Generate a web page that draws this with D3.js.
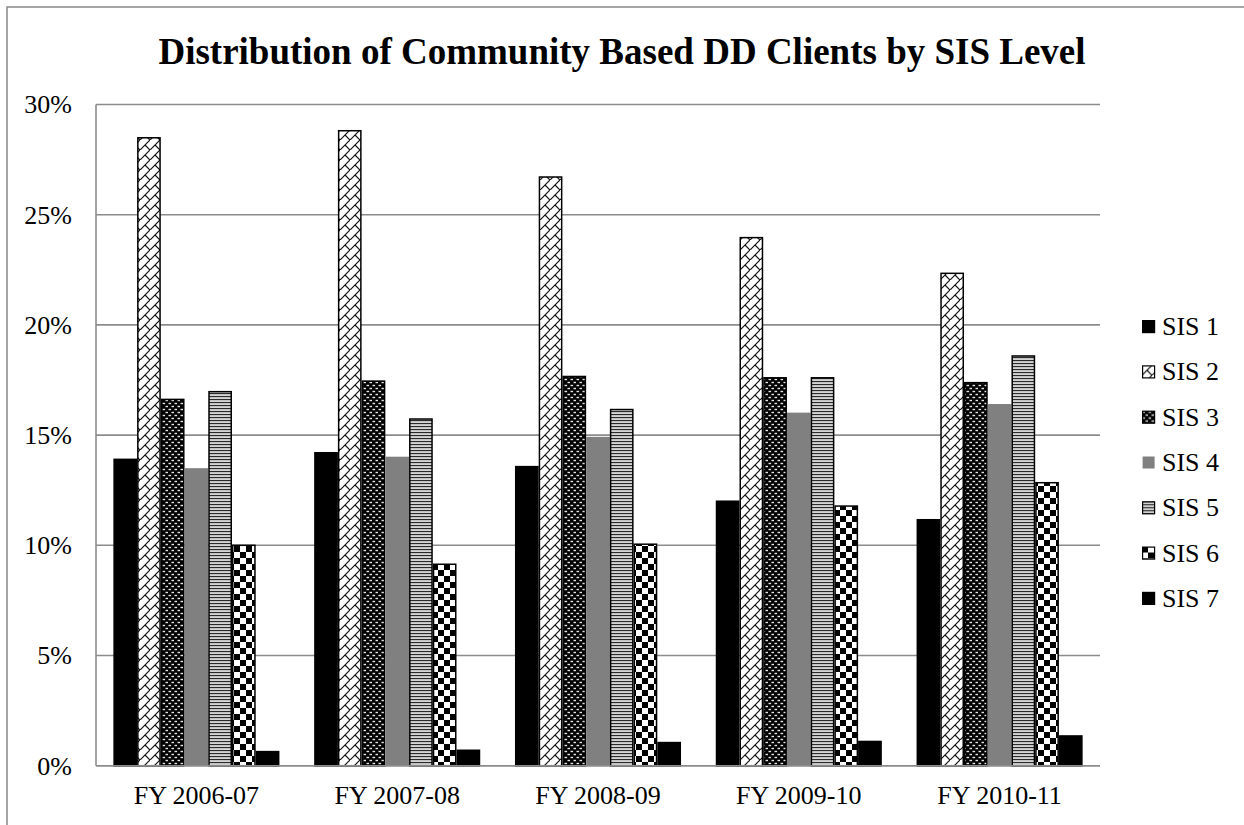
<!DOCTYPE html>
<html>
<head>
<meta charset="utf-8">
<script src="https://cdn.jsdelivr.net/npm/d3@7"></script>
<style>
  html, body { margin: 0; padding: 0; background: #fff; }
  svg { display: block; }
  svg text { font-family: "Liberation Serif", "Times New Roman", serif; fill: #000; }
</style>
</head>
<body>
<svg id="chart" width="1244" height="825"></svg>
<script>
// Fiscal years on the x axis
const categories = ["FY 2006-07", "FY 2007-08", "FY 2008-09", "FY 2009-10", "FY 2010-11"];
const seriesNames = ["SIS 1", "SIS 2", "SIS 3", "SIS 4", "SIS 5", "SIS 6", "SIS 7"];

// Share of clients (%) per SIS level, one array per level, in year order
const sis1 = [13.9, 14.2, 13.57, 12.0, 11.16];
const sis2 = [28.49, 28.81, 26.71, 23.96, 22.34];
const sis3 = [16.62, 17.45, 17.66, 17.6, 17.38];
const sis4 = [13.5, 14.02, 14.92, 16.02, 16.41];
const sis5 = [16.97, 15.73, 16.16, 17.6, 18.59];
const sis6 = [10.0, 9.14, 10.05, 11.78, 12.84];
const sis7 = [0.64, 0.7, 1.05, 1.1, 1.35];
const seriesValues = [sis1, sis2, sis3, sis4, sis5, sis6, sis7];

const yTicks = [0, 5, 10, 15, 20, 25, 30];

const FONT = "Liberation Serif, Times New Roman, serif";
const svg = d3.select("#chart");
const defs = svg.append("defs");

// ---- fill patterns ----
// diagonal brick
const pBrick = defs.append("pattern").attr("id", "p-brick")
  .attr("patternUnits", "userSpaceOnUse").attr("width", 10).attr("height", 10);
pBrick.append("rect").attr("width", 10).attr("height", 10).attr("fill", "#fff");
pBrick.append("path").attr("d", "M-1,11 L11,-1 M5,5 L10,10 M-5,5 L0,10 M5,-5 L10,0")
  .attr("stroke", "#111").attr("stroke-width", 1.2).attr("fill", "none");

// black with light dashes, staggered
const pDots = defs.append("pattern").attr("id", "p-dots")
  .attr("patternUnits", "userSpaceOnUse").attr("width", 6).attr("height", 6);
pDots.append("rect").attr("width", 6).attr("height", 6).attr("fill", "#000");
pDots.append("rect").attr("x", 0.5).attr("y", 0.8).attr("width", 2.6).attr("height", 1.4).attr("fill", "#e6e6e6");
pDots.append("rect").attr("x", 3.5).attr("y", 3.8).attr("width", 2.6).attr("height", 1.4).attr("fill", "#e6e6e6");

// horizontal stripes
const pStripe = defs.append("pattern").attr("id", "p-stripe")
  .attr("patternUnits", "userSpaceOnUse").attr("width", 4).attr("height", 3);
pStripe.append("rect").attr("width", 4).attr("height", 3).attr("fill", "#d4d4d4");
pStripe.append("rect").attr("y", 0).attr("width", 4).attr("height", 1.1).attr("fill", "#2a2a2a");

// checkerboard
const pCheck = defs.append("pattern").attr("id", "p-check")
  .attr("patternUnits", "userSpaceOnUse").attr("width", 12).attr("height", 12);
pCheck.append("rect").attr("width", 12).attr("height", 12).attr("fill", "#fff");
pCheck.append("rect").attr("width", 6).attr("height", 6).attr("fill", "#000");
pCheck.append("rect").attr("x", 6).attr("y", 6).attr("width", 6).attr("height", 6).attr("fill", "#000");

const fills = ["#000", "url(#p-brick)", "url(#p-dots)", "#808080", "url(#p-stripe)", "url(#p-check)", "#000"];
const strokes = ["#000", "#000", "#000", "none", "#000", "#000", "#000"];

// ---- outer frame ----
svg.append("rect").attr("x", 7).attr("y", 7).attr("width", 1260).attr("height", 840)
  .attr("fill", "#fff").attr("stroke", "#888").attr("stroke-width", 1.5);

// ---- title ----
svg.append("text").attr("x", 622).attr("y", 64).attr("text-anchor", "middle")
  .attr("font-family", FONT).attr("font-size", 37).attr("font-weight", "bold")
  .text("Distribution of Community Based DD Clients by SIS Level");

// ---- scales ----
const plot = { left: 96, right: 1100, top: 104.5, bottom: 765.7 };
const x = d3.scaleBand().domain(categories).range([plot.left, plot.right])
  .paddingInner(0.173).paddingOuter(0.0865);
const xs = d3.scaleBand().domain(d3.range(seriesNames.length)).range([0, x.bandwidth()]);
const y = d3.scaleLinear().domain([0, 30]).range([plot.bottom, plot.top]);

// gridlines
svg.append("g").selectAll("line").data(yTicks).join("line")
  .attr("x1", plot.left).attr("x2", plot.right)
  .attr("y1", d => y(d)).attr("y2", d => y(d))
  .attr("stroke", "#8c8c8c").attr("stroke-width", 1.6);

// y axis line
svg.append("line").attr("x1", plot.left).attr("x2", plot.left)
  .attr("y1", plot.top).attr("y2", plot.bottom)
  .attr("stroke", "#8c8c8c").attr("stroke-width", 1.6);

// y tick labels
const yAxis = d3.axisLeft(y).tickValues(yTicks).tickFormat(d => d + "%").tickSize(0).tickPadding(24);
const gy = svg.append("g").attr("transform", `translate(${plot.left},0)`).call(yAxis)
  .attr("font-family", FONT).attr("font-size", 26);
gy.select(".domain").remove();
gy.selectAll("text").attr("font-family", FONT).attr("font-size", 26);

// x tick labels
const xAxis = d3.axisBottom(x).tickSize(0).tickPadding(20);
const gx = svg.append("g").attr("transform", `translate(0,${plot.bottom})`).call(xAxis)
  .attr("font-family", FONT).attr("font-size", 26);
gx.select(".domain").remove();
gx.selectAll("text").attr("font-family", FONT).attr("font-size", 26);

// ---- bars ----
const bars = [];
seriesValues.forEach((vals, si) => {
  vals.forEach((v, ci) => bars.push({ si, ci, v }));
});
svg.append("g").selectAll("rect").data(bars).join("rect")
  .attr("x", d => x(categories[d.ci]) + xs(d.si) + (strokes[d.si] === "none" ? 0 : 0.75))
  .attr("width", d => xs.bandwidth() - (strokes[d.si] === "none" ? 0 : 1.5))
  .attr("y", d => y(d.v))
  .attr("height", d => y(0) - y(d.v))
  .attr("fill", d => fills[d.si])
  .attr("stroke", d => strokes[d.si])
  .attr("stroke-width", 1.5);

// baseline drawn over bar bottoms
svg.append("line").attr("x1", plot.left).attr("x2", plot.right)
  .attr("y1", y(0)).attr("y2", y(0))
  .attr("stroke", "#8c8c8c").attr("stroke-width", 1.6);

// ---- legend ----
const legend = svg.append("g").attr("transform", "translate(1142,320)");
const item = legend.selectAll("g").data(seriesNames).join("g")
  .attr("transform", (d, i) => `translate(0,${i * 45.3})`);
item.append("rect").attr("x", 0.6).attr("y", 0.6).attr("width", 12).attr("height", 12)
  .attr("fill", (d, i) => fills[i])
  .attr("stroke", (d, i) => strokes[i]).attr("stroke-width", 1.2);
item.append("text").attr("x", 20).attr("y", 15).attr("font-family", FONT).attr("font-size", 26)
  .text(d => d);
</script>
</body>
</html>
